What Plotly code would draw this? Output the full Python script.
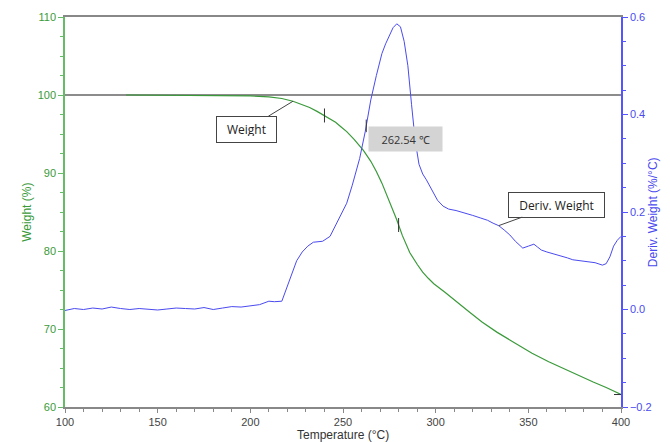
import numpy as np
import plotly.graph_objects as go

# ---- data ----
temp_w = [133, 150, 175, 200, 210, 217, 223, 228, 232, 236, 239, 243, 246, 249, 252, 256, 261, 265, 268, 271, 274, 277,
          279, 282, 286, 290, 293, 296, 299, 305, 311, 318, 325, 333, 340, 346, 352, 361, 371, 378, 385, 392, 398, 400]
weight = [100.0, 99.98, 99.95, 99.88, 99.75, 99.55, 99.2, 98.8, 98.4, 97.9, 97.5, 97.0, 96.5, 95.9, 95.3, 94.3, 92.9, 91.5,
          90.2, 88.7, 87.0, 85.3, 84.0, 82.0, 79.8, 78.3, 77.3, 76.5, 75.8, 74.7, 73.6, 72.2, 70.9, 69.6, 68.6, 67.7, 66.9,
          65.8, 64.7, 63.9, 63.2, 62.5, 61.8, 61.6]

temp_d = [100, 105, 110, 115, 120, 125, 130, 135, 140, 145, 150, 155, 160, 165, 170, 175, 180, 185, 190, 195, 200, 205,
          210, 213, 217, 221, 225, 228, 231, 234, 236, 239, 243, 247, 250, 252, 255, 259, 262, 265, 268, 271, 273, 275,
          277, 279, 281, 283, 285, 287, 289, 291, 293, 295, 298, 301, 304, 307, 311, 316, 320, 324, 328, 331, 334, 337,
          340, 343, 347, 350, 353, 355, 357, 360, 364, 367, 371, 374, 378, 382, 386, 390, 392, 394, 396, 398, 400]
deriv = [-0.002, 0.002, 0.000, 0.003, 0.001, 0.005, 0.002, 0.000, 0.002, 0.000, -0.001, 0.001, 0.003, 0.002, 0.001,
         0.004, 0.000, 0.003, 0.006, 0.005, 0.007, 0.010, 0.017, 0.016, 0.017, 0.060, 0.100, 0.118, 0.130, 0.138, 0.139,
         0.140, 0.150, 0.180, 0.205, 0.218, 0.255, 0.310, 0.365, 0.430, 0.480, 0.525, 0.545, 0.562, 0.578, 0.586, 0.580,
         0.550, 0.500, 0.420, 0.345, 0.298, 0.278, 0.266, 0.245, 0.224, 0.212, 0.206, 0.203, 0.198, 0.193, 0.188, 0.183,
         0.177, 0.172, 0.163, 0.153, 0.140, 0.126, 0.130, 0.134, 0.128, 0.122, 0.118, 0.114, 0.111, 0.106, 0.102, 0.100,
         0.097, 0.096, 0.091, 0.094, 0.108, 0.130, 0.142, 0.150]

weight_marks = [240, 280]
deriv_mark = [262.54]
reference_weight = 100
peak_label = "262.54 ℃"

GREEN = "#3a9a3a"
BLUE = "#4a4af0"
FONT = "Liberation Sans, Arial, sans-serif"

fig = go.Figure()
fig.add_trace(go.Scatter(x=temp_w, y=weight, mode="lines", line=dict(color=GREEN, width=1.2),
                         yaxis="y", showlegend=False, hoverinfo="skip"))
fig.add_trace(go.Scatter(x=temp_d, y=deriv, mode="lines", line=dict(color=BLUE, width=1),
                         yaxis="y2", showlegend=False, hoverinfo="skip"))
# marks on curves
fig.add_trace(go.Scatter(x=weight_marks, y=list(np.interp(weight_marks, temp_w, weight)), mode="markers",
                         marker=dict(symbol="line-ns", size=10, line=dict(color="#333333", width=1)),
                         yaxis="y", showlegend=False, hoverinfo="skip"))
fig.add_trace(go.Scatter(x=deriv_mark, y=list(np.interp(deriv_mark, temp_d, deriv)), mode="markers",
                         marker=dict(symbol="line-ns", size=9, line=dict(color="#333333", width=1)),
                         yaxis="y2", showlegend=False, hoverinfo="skip"))
fig.add_trace(go.Scatter(x=[temp_w[-1]], y=[weight[-1]], mode="markers",
                         marker=dict(symbol="line-ew", size=10, line=dict(color="#333333", width=1)),
                         yaxis="y", showlegend=False, hoverinfo="skip"))

fig.add_shape(type="line", xref="paper", x0=0, x1=1, yref="y", y0=reference_weight, y1=reference_weight,
              line=dict(color="#666666", width=1.5), layer="below")

# page body has an 8px margin: figure size/margins compensate so the plot lands where the reference has it
fig.update_layout(
    width=662, height=434,
    margin=dict(l=57, r=49, t=9, b=35),
    paper_bgcolor="white", plot_bgcolor="white",
    font=dict(family=FONT, size=11),
    xaxis=dict(range=[100, 400], dtick=50, showgrid=False, zeroline=False, showline=True, mirror=True,
               automargin=False,
               linecolor="#888888", linewidth=1.5, ticks="outside", ticklen=4, tickcolor="#888888",
               tickfont=dict(color="#444444", size=11),
               minor=dict(dtick=10, ticks="outside", ticklen=3, tickcolor="#888888", showgrid=False)),
    yaxis=dict(range=[60, 110], dtick=10, showgrid=False, zeroline=False, showline=True, linecolor="#66bb66",
               automargin=False,
               linewidth=1.5, ticks="outside", ticklen=5, tickcolor="#66bb66", tickfont=dict(color=GREEN, size=11),
               minor=dict(dtick=2.5, ticks="outside", ticklen=3, tickcolor="#66bb66", showgrid=False)),
    yaxis2=dict(range=[-0.2, 0.6], dtick=0.2, tickformat=".1f", overlaying="y", side="right", showgrid=False,
                automargin=False,
                zeroline=False, showline=True, linecolor="#5555ff", linewidth=1.5, ticks="outside", ticklen=5,
                tickcolor="#5555ff", tickfont=dict(color=BLUE, size=11),
                minor=dict(dtick=0.05, ticks="outside", ticklen=3, tickcolor="#5555ff", showgrid=False)),
)

# axis titles
fig.add_annotation(text="Temperature (°C)", xref="paper", yref="paper", x=0.5, y=-0.072, yanchor="middle",
                   showarrow=False, font=dict(size=12, color="#333333"))
fig.add_annotation(text="Weight (%)", xref="paper", yref="paper", x=-0.085, y=0.5, textangle=-90,
                   showarrow=False, font=dict(size=12, color=GREEN))
fig.add_annotation(text="Deriv. Weight (%/°C)", xref="paper", yref="paper", x=1.074, y=0.5, textangle=-90,
                   showarrow=False, font=dict(size=12, color=BLUE))

# callouts
fig.add_annotation(text="Weight", x=223, y=float(np.interp(223, temp_w, weight)), xref="x", yref="y",
                   showarrow=True, arrowhead=0, arrowwidth=1, arrowcolor="#444444", ax=-46, ay=28,
                   width=47, height=13,
                   bgcolor="white", bordercolor="#444444", borderwidth=1, borderpad=6,
                   font=dict(size=12, color="#222222", family="Open Sans, sans-serif"))
fig.add_annotation(text="Deriv. Weight", x=334, y=float(np.interp(334, temp_d, deriv)), xref="x", yref="y2",
                   showarrow=True, arrowhead=0, arrowwidth=1, arrowcolor="#444444", ax=58, ay=-21,
                   width=83, height=12,
                   bgcolor="white", bordercolor="#444444", borderwidth=1, borderpad=6,
                   font=dict(size=12, color="#222222", family="Open Sans, sans-serif"))
fig.add_annotation(text=peak_label, x=283.5, y=94.4, xref="x", yref="y", showarrow=False,
                   width=61, height=12,
                   bgcolor="#d4d4d4", borderpad=6, font=dict(size=11, color="#333333", family="Open Sans, sans-serif"))

fig.write_html("out.html")
